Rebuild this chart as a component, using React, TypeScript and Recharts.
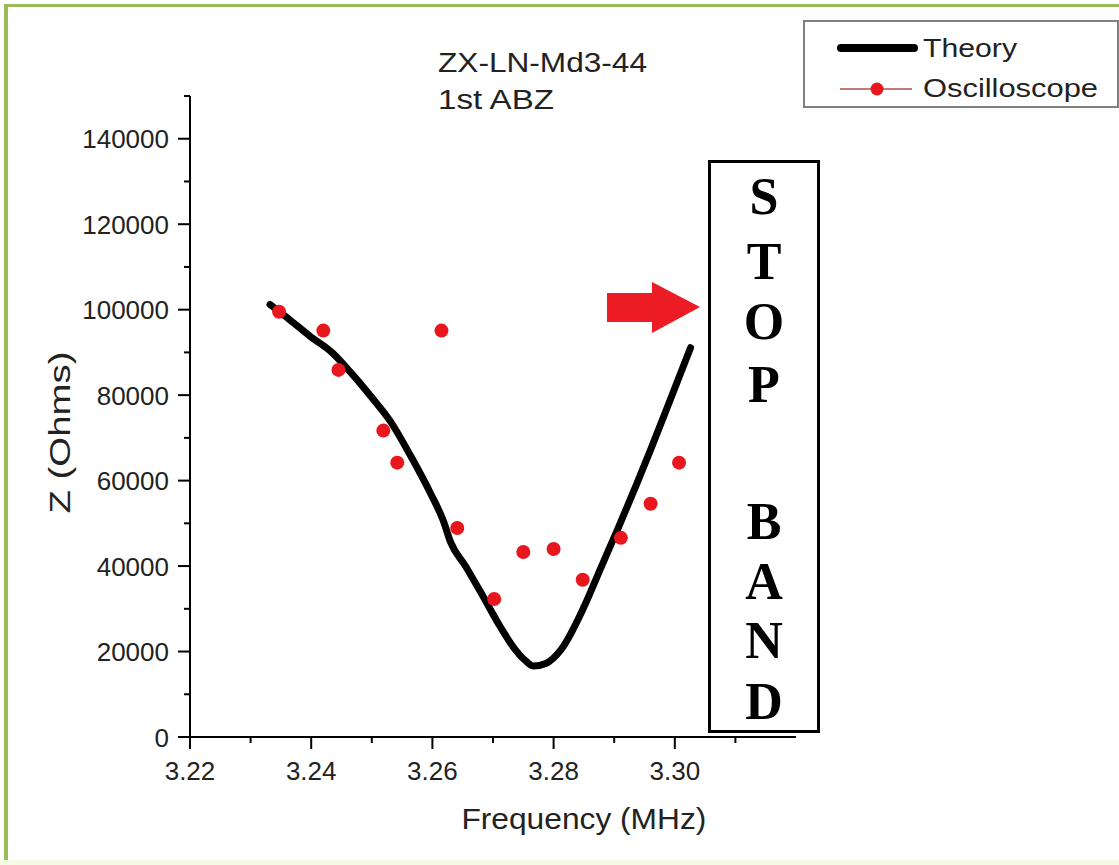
import { ComposedChart, Line, Scatter, XAxis, YAxis } from 'recharts'

// values
const theoryFreq = [
  3.2332, 3.2365, 3.2398, 3.2435, 3.2464, 3.2498, 3.2531, 3.2564, 3.2597, 3.2618,
  3.263, 3.2655, 3.2684, 3.2712, 3.2737, 3.2754, 3.2767, 3.2787, 3.2812, 3.285,
  3.2878, 3.2906, 3.2936, 3.296, 3.2993, 3.3026,
]
const theoryZ = [
  101200, 97600, 93800, 89900, 85500, 79800, 73800, 65800, 57000, 50600,
  45600, 39900, 32800, 25800, 20400, 17800, 16600, 17200, 20400, 30400,
  39600, 48700, 58800, 67200, 79100, 91100,
]
const scopeFreq = [
  3.2347, 3.242, 3.2445, 3.2519, 3.2542, 3.2615, 3.2641, 3.2702, 3.275, 3.28,
  3.2848, 3.2911, 3.296, 3.3007,
]
const scopeZ = [
  99500, 95100, 85900, 71700, 64200, 95100, 48900, 32300, 43300, 44000,
  36800, 46600, 54600, 64200,
]
const xTicks = [3.22, 3.23, 3.24, 3.25, 3.26, 3.27, 3.28, 3.29, 3.3, 3.31]
const yTicks = [
  0, 10000, 20000, 30000, 40000, 50000, 60000, 70000, 80000, 90000, 100000,
  110000, 120000, 130000, 140000, 150000,
]
const bandLetters = ['S', 'T', 'O', 'P', 'B', 'A', 'N', 'D']
const bandLetterY = [214, 279, 339, 402, 539, 599, 658, 719]

const theory = theoryFreq.map((f, i) => ({ f, z: theoryZ[i] }))
const scope = scopeFreq.map((f, i) => ({ f, z: scopeZ[i] }))

const SANS = '"Liberation Sans", Arial, sans-serif'
const SERIF = '"Liberation Serif", "Times New Roman", serif'
const TEXT = '#222'
const RED = '#e8161d'

const XTick = ({ x, y, payload }: any) => {
  const major = Math.round(payload.value * 100) % 2 === 0
  return (
    <g>
      <line x1={x} x2={x} y1={y} y2={y + (major ? 12 : 6)} stroke="#000" strokeWidth={2} />
      {major && (
        <text x={x} y={y + 43} textAnchor="middle" fontSize={26} fontFamily={SANS} fill={TEXT}>
          {payload.value.toFixed(2)}
        </text>
      )}
    </g>
  )
}

const YTick = ({ x, y, payload }: any) => {
  const major = payload.value % 20000 === 0
  return (
    <g>
      <line x1={x - (major ? 12 : 6)} x2={x} y1={y} y2={y} stroke="#000" strokeWidth={2} />
      {major && (
        <text x={x - 21} y={y + 9.5} textAnchor="end" fontSize={26} fontFamily={SANS} fill={TEXT}>
          {payload.value}
        </text>
      )}
    </g>
  )
}

const XTitle = ({ viewBox }: any) => (
  <text
    x={viewBox.x + viewBox.width * 0.65}
    y={viewBox.y + 92}
    textAnchor="middle"
    fontSize={29}
    fontFamily={SANS}
    fill={TEXT}
    textLength={245}
    lengthAdjust="spacingAndGlyphs"
  >
    Frequency (MHz)
  </text>
)

const YTitle = ({ viewBox }: any) => {
  const cx = viewBox.x - 30
  const cy = viewBox.y + viewBox.height * 0.525
  return (
    <text
      x={cx}
      y={cy}
      transform={`rotate(-90, ${cx}, ${cy})`}
      textAnchor="middle"
      dominantBaseline="central"
      fontSize={29}
      fontFamily={SANS}
      fill={TEXT}
      textLength={162}
      lengthAdjust="spacingAndGlyphs"
    >
      Z (Ohms)
    </text>
  )
}

const Dot = ({ cx, cy }: any) => <circle cx={cx} cy={cy} r={7} fill={RED} />

const Overlay = () => (
  <svg
    width={1119}
    height={865}
    style={{ position: 'absolute', left: 0, top: 0, pointerEvents: 'none' }}
  >
    {/* title */}
    <text x={438} y={72} fontSize={27} fontFamily={SANS} fill={TEXT} textLength={209} lengthAdjust="spacingAndGlyphs">
      ZX-LN-Md3-44
    </text>
    <text x={438} y={109} fontSize={27} fontFamily={SANS} fill={TEXT} textLength={116} lengthAdjust="spacingAndGlyphs">
      1st ABZ
    </text>

    {/* legend */}
    <rect x={804} y={21} width={314} height={86} fill="#fff" stroke="#808080" strokeWidth={2} />
    <line x1={841} x2={914} y1={48} y2={48} stroke="#000" strokeWidth={8} strokeLinecap="round" />
    <text x={923} y={57} fontSize={26} fontFamily={SANS} fill={TEXT} textLength={94} lengthAdjust="spacingAndGlyphs">
      Theory
    </text>
    <line x1={840} x2={912} y1={89} y2={89} stroke="#b54a4a" strokeWidth={1.5} />
    <circle cx={877} cy={89} r={6.5} fill={RED} />
    <text x={923} y={97} fontSize={26} fontFamily={SANS} fill={TEXT} textLength={175} lengthAdjust="spacingAndGlyphs">
      Oscilloscope
    </text>

    {/* stop band box */}
    <rect x={709.5} y={161.5} width={109} height={570} fill="#fff" stroke="#000" strokeWidth={3} />
    {bandLetters.map((ch, i) => (
      <text
        key={ch + i}
        x={764}
        y={bandLetterY[i]}
        textAnchor="middle"
        fontSize={52}
        fontWeight="bold"
        fontFamily={SERIF}
        fill="#000"
      >
        {ch}
      </text>
    ))}

    {/* arrow */}
    <polygon
      points="607,293 652,293 652,282 700,307 652,333 652,322 607,322"
      fill="#ec1c24"
    />
  </svg>
)

export default function App() {
  return (
    <div
      style={{
        position: 'absolute',
        left: 0,
        top: 0,
        width: 1119,
        height: 865,
        background: '#fff',
        overflow: 'hidden',
      }}
    >
      {/* green frame */}
      <div style={{ position: 'absolute', left: 4, top: 4, width: 1115, height: 3, background: '#9bbb59' }} />
      <div style={{ position: 'absolute', left: 4, top: 4, width: 4, height: 858, background: '#9bbb59' }} />
      <div style={{ position: 'absolute', left: 0, top: 860, width: 1119, height: 5, background: '#f6fbe4' }} />

      <div style={{ position: 'absolute', left: 0, top: 0 }}>
        <ComposedChart
          width={1119}
          height={865}
          margin={{ top: 96, right: 323, bottom: 68, left: 90 }}
        >
          <XAxis
            dataKey="f"
            type="number"
            domain={[3.22, 3.32]}
            ticks={xTicks}
            interval={0}
            height={60}
            tickSize={0}
            tickMargin={0}
            tickLine={false}
            axisLine={{ stroke: '#000', strokeWidth: 2 }}
            tick={<XTick />}
            allowDataOverflow
            label={<XTitle />}
          />
          <YAxis
            dataKey="z"
            type="number"
            domain={[0, 150000]}
            ticks={yTicks}
            interval={0}
            width={100}
            tickSize={0}
            tickMargin={0}
            tickLine={false}
            axisLine={{ stroke: '#000', strokeWidth: 2 }}
            tick={<YTick />}
            allowDataOverflow
            label={<YTitle />}
          />
          <Line
            data={theory}
            dataKey="z"
            name="Theory"
            type="monotone"
            stroke="#000"
            strokeWidth={7}
            strokeLinecap="round"
            strokeLinejoin="round"
            dot={false}
            activeDot={false}
            isAnimationActive={false}
          />
          <Scatter
            data={scope}
            dataKey="z"
            name="Oscilloscope"
            fill={RED}
            shape={<Dot />}
            isAnimationActive={false}
          />
        </ComposedChart>
      </div>
      <Overlay />
    </div>
  )
}
